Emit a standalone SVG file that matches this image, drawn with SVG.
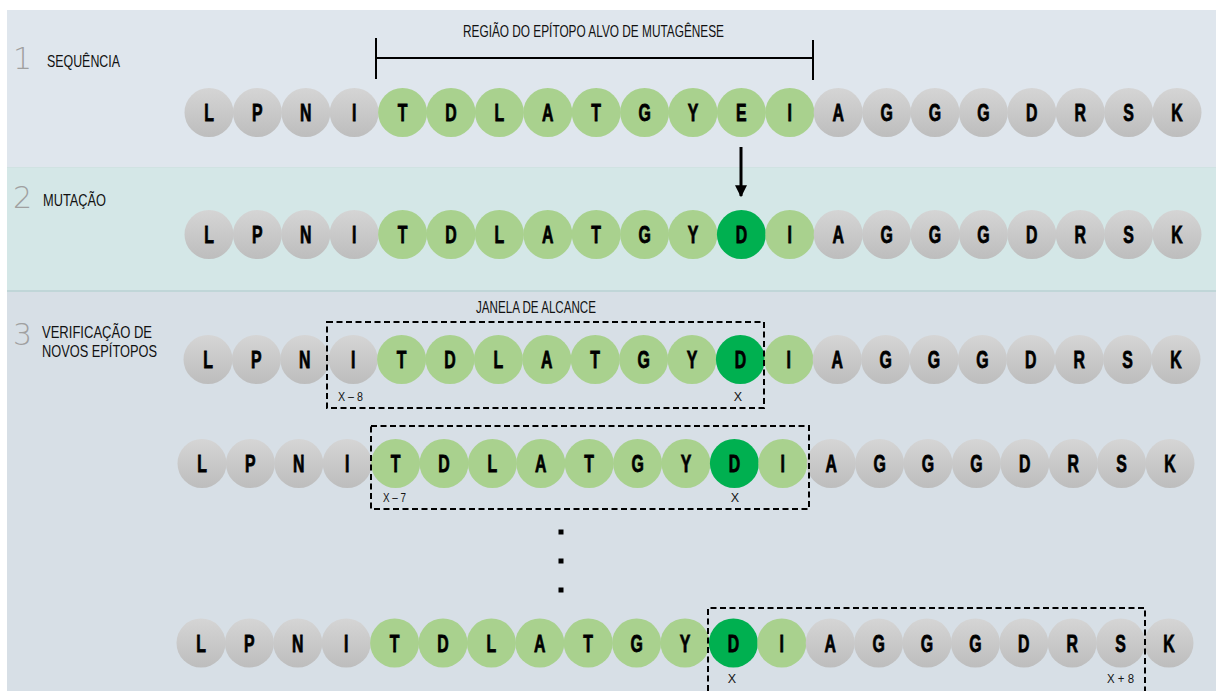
<svg xmlns="http://www.w3.org/2000/svg" width="1216" height="691" viewBox="0 0 1216 691">
  <defs>
    <linearGradient id="grayBall" x1="0" y1="0" x2="0" y2="1">
      <stop offset="0" stop-color="#d5d5d5"/>
      <stop offset="1" stop-color="#bdbdbd"/>
    </linearGradient>
    <marker id="arrowHead" viewBox="0 0 10 10" refX="9" refY="5" markerWidth="4" markerHeight="4" orient="auto" markerUnits="strokeWidth">
      <path d="M0,0 L10,5 L0,10 z" fill="#000"/>
    </marker>
  </defs>
  <style>
    .lbl { font-family: "Liberation Sans", "DejaVu Sans", sans-serif; font-size: 16.5px; fill: #111; }
    .small { font-family: "Liberation Sans", sans-serif; font-size: 12.5px; fill: #151515; }
    .step { font-family: "DejaVu Sans", "Liberation Sans", sans-serif; font-size: 30px; font-weight: 200; fill: #a0a0a0; }
    .aa circle { r: 24.5px; }
    .aa text { font-family: "Liberation Sans", "DejaVu Sans", sans-serif; font-weight: bold; font-size: 24px; text-anchor: middle; fill: #000; stroke: #000; stroke-width: 0.8px; transform: scale(0.66, 1); }
    .g { fill: url(#grayBall); }
    .l { fill: #a9d18e; }
    .d { fill: #00b050; }
    .win { fill: none; stroke: #000; stroke-width: 2; stroke-dasharray: 6 3.5; }
    .bar { stroke: #000; stroke-width: 2; fill: none; }
  </style>

  <!-- page background above the panels -->
  <rect x="0" y="0" width="1216" height="691" fill="#ffffff"/>

  <!-- panel bands -->
  <g id="panels">
    <rect x="7" y="10" width="1209" height="157" fill="#dfe6ed"/>
    <rect x="7" y="167" width="1209" height="125" fill="#d4e7e7"/>
    <rect x="7" y="292" width="1209" height="399" fill="#d7dfe6"/>
    <line x1="7" y1="167.5" x2="1216" y2="167.5" stroke="#d0e2e2" stroke-width="1"/>
    <line x1="7" y1="291" x2="1216" y2="291" stroke="#c0d6d8" stroke-width="2"/>
  </g>

  <!-- step titles -->
  <g id="step1">
    <text class="step" x="13" y="69">1</text>
    <text class="lbl" x="47" y="67" textLength="73" lengthAdjust="spacingAndGlyphs">SEQUÊNCIA</text>
  </g>
  <g id="step2">
    <text class="step" x="13" y="208">2</text>
    <text class="lbl" x="43" y="206" textLength="63" lengthAdjust="spacingAndGlyphs">MUTAÇÃO</text>
  </g>
  <g id="step3">
    <text class="step" x="13" y="345">3</text>
    <text class="lbl" x="42" y="338" textLength="110" lengthAdjust="spacingAndGlyphs">VERIFICAÇÃO DE</text>
    <text class="lbl" x="42" y="357" textLength="115" lengthAdjust="spacingAndGlyphs">NOVOS EPÍTOPOS</text>
  </g>

  <!-- target epitope region bracket -->
  <g id="region">
    <path class="bar" d="M376,38 V79 M376,58 H813 M813,40 V80"/>
    <text class="lbl" x="463" y="37" textLength="261" lengthAdjust="spacingAndGlyphs">REGIÃO DO EPÍTOPO ALVO DE MUTAGÊNESE</text>
  </g>

  <!-- sequence 1: original -->
  <g id="seq1" class="aa" transform="translate(209,112.5)">
    <g><circle class="g"/><text y="8.5">L</text></g>
    <g transform="translate(48.4)"><circle class="g"/><text y="8.5">P</text></g>
    <g transform="translate(96.8)"><circle class="g"/><text y="8.5">N</text></g>
    <g transform="translate(145.2)"><circle class="g"/><text y="8.5">I</text></g>
    <g transform="translate(193.6)"><circle class="l"/><text y="8.5">T</text></g>
    <g transform="translate(242)"><circle class="l"/><text y="8.5">D</text></g>
    <g transform="translate(290.4)"><circle class="l"/><text y="8.5">L</text></g>
    <g transform="translate(338.8)"><circle class="l"/><text y="8.5">A</text></g>
    <g transform="translate(387.2)"><circle class="l"/><text y="8.5">T</text></g>
    <g transform="translate(435.6)"><circle class="l"/><text y="8.5">G</text></g>
    <g transform="translate(484)"><circle class="l"/><text y="8.5">Y</text></g>
    <g transform="translate(532.4)"><circle class="l"/><text y="8.5">E</text></g>
    <g transform="translate(580.8)"><circle class="l"/><text y="8.5">I</text></g>
    <g transform="translate(629.2)"><circle class="g"/><text y="8.5">A</text></g>
    <g transform="translate(677.6)"><circle class="g"/><text y="8.5">G</text></g>
    <g transform="translate(726)"><circle class="g"/><text y="8.5">G</text></g>
    <g transform="translate(774.4)"><circle class="g"/><text y="8.5">G</text></g>
    <g transform="translate(822.8)"><circle class="g"/><text y="8.5">D</text></g>
    <g transform="translate(871.2)"><circle class="g"/><text y="8.5">R</text></g>
    <g transform="translate(919.6)"><circle class="g"/><text y="8.5">S</text></g>
    <g transform="translate(968)"><circle class="g"/><text y="8.5">K</text></g>
  </g>

  <!-- sequence 2: after mutation E -> D -->
  <g id="seq2" class="aa" transform="translate(209,234.5)">
    <g><circle class="g"/><text y="8.5">L</text></g>
    <g transform="translate(48.4)"><circle class="g"/><text y="8.5">P</text></g>
    <g transform="translate(96.8)"><circle class="g"/><text y="8.5">N</text></g>
    <g transform="translate(145.2)"><circle class="g"/><text y="8.5">I</text></g>
    <g transform="translate(193.6)"><circle class="l"/><text y="8.5">T</text></g>
    <g transform="translate(242)"><circle class="l"/><text y="8.5">D</text></g>
    <g transform="translate(290.4)"><circle class="l"/><text y="8.5">L</text></g>
    <g transform="translate(338.8)"><circle class="l"/><text y="8.5">A</text></g>
    <g transform="translate(387.2)"><circle class="l"/><text y="8.5">T</text></g>
    <g transform="translate(435.6)"><circle class="l"/><text y="8.5">G</text></g>
    <g transform="translate(484)"><circle class="l"/><text y="8.5">Y</text></g>
    <g transform="translate(532.4)"><circle class="d"/><text y="8.5">D</text></g>
    <g transform="translate(580.8)"><circle class="l"/><text y="8.5">I</text></g>
    <g transform="translate(629.2)"><circle class="g"/><text y="8.5">A</text></g>
    <g transform="translate(677.6)"><circle class="g"/><text y="8.5">G</text></g>
    <g transform="translate(726)"><circle class="g"/><text y="8.5">G</text></g>
    <g transform="translate(774.4)"><circle class="g"/><text y="8.5">G</text></g>
    <g transform="translate(822.8)"><circle class="g"/><text y="8.5">D</text></g>
    <g transform="translate(871.2)"><circle class="g"/><text y="8.5">R</text></g>
    <g transform="translate(919.6)"><circle class="g"/><text y="8.5">S</text></g>
    <g transform="translate(968)"><circle class="g"/><text y="8.5">K</text></g>
  </g>

  <!-- sequence 3: window X-8 .. X -->
  <g id="seq3" class="aa" transform="translate(208,359.5)">
    <g><circle class="g"/><text y="8.5">L</text></g>
    <g transform="translate(48.4)"><circle class="g"/><text y="8.5">P</text></g>
    <g transform="translate(96.8)"><circle class="g"/><text y="8.5">N</text></g>
    <g transform="translate(145.2)"><circle class="g"/><text y="8.5">I</text></g>
    <g transform="translate(193.6)"><circle class="l"/><text y="8.5">T</text></g>
    <g transform="translate(242)"><circle class="l"/><text y="8.5">D</text></g>
    <g transform="translate(290.4)"><circle class="l"/><text y="8.5">L</text></g>
    <g transform="translate(338.8)"><circle class="l"/><text y="8.5">A</text></g>
    <g transform="translate(387.2)"><circle class="l"/><text y="8.5">T</text></g>
    <g transform="translate(435.6)"><circle class="l"/><text y="8.5">G</text></g>
    <g transform="translate(484)"><circle class="l"/><text y="8.5">Y</text></g>
    <g transform="translate(532.4)"><circle class="d"/><text y="8.5">D</text></g>
    <g transform="translate(580.8)"><circle class="l"/><text y="8.5">I</text></g>
    <g transform="translate(629.2)"><circle class="g"/><text y="8.5">A</text></g>
    <g transform="translate(677.6)"><circle class="g"/><text y="8.5">G</text></g>
    <g transform="translate(726)"><circle class="g"/><text y="8.5">G</text></g>
    <g transform="translate(774.4)"><circle class="g"/><text y="8.5">G</text></g>
    <g transform="translate(822.8)"><circle class="g"/><text y="8.5">D</text></g>
    <g transform="translate(871.2)"><circle class="g"/><text y="8.5">R</text></g>
    <g transform="translate(919.6)"><circle class="g"/><text y="8.5">S</text></g>
    <g transform="translate(968)"><circle class="g"/><text y="8.5">K</text></g>
  </g>

  <!-- sequence 4: window X-7 .. X+1 -->
  <g id="seq4" class="aa" transform="translate(202,463.5)">
    <g><circle class="g"/><text y="8.5">L</text></g>
    <g transform="translate(48.4)"><circle class="g"/><text y="8.5">P</text></g>
    <g transform="translate(96.8)"><circle class="g"/><text y="8.5">N</text></g>
    <g transform="translate(145.2)"><circle class="g"/><text y="8.5">I</text></g>
    <g transform="translate(193.6)"><circle class="l"/><text y="8.5">T</text></g>
    <g transform="translate(242)"><circle class="l"/><text y="8.5">D</text></g>
    <g transform="translate(290.4)"><circle class="l"/><text y="8.5">L</text></g>
    <g transform="translate(338.8)"><circle class="l"/><text y="8.5">A</text></g>
    <g transform="translate(387.2)"><circle class="l"/><text y="8.5">T</text></g>
    <g transform="translate(435.6)"><circle class="l"/><text y="8.5">G</text></g>
    <g transform="translate(484)"><circle class="l"/><text y="8.5">Y</text></g>
    <g transform="translate(532.4)"><circle class="d"/><text y="8.5">D</text></g>
    <g transform="translate(580.8)"><circle class="l"/><text y="8.5">I</text></g>
    <g transform="translate(629.2)"><circle class="g"/><text y="8.5">A</text></g>
    <g transform="translate(677.6)"><circle class="g"/><text y="8.5">G</text></g>
    <g transform="translate(726)"><circle class="g"/><text y="8.5">G</text></g>
    <g transform="translate(774.4)"><circle class="g"/><text y="8.5">G</text></g>
    <g transform="translate(822.8)"><circle class="g"/><text y="8.5">D</text></g>
    <g transform="translate(871.2)"><circle class="g"/><text y="8.5">R</text></g>
    <g transform="translate(919.6)"><circle class="g"/><text y="8.5">S</text></g>
    <g transform="translate(968)"><circle class="g"/><text y="8.5">K</text></g>
  </g>

  <!-- sequence 5: window X .. X+8 -->
  <g id="seq5" class="aa" transform="translate(201,643)">
    <g><circle class="g"/><text y="8.5">L</text></g>
    <g transform="translate(48.4)"><circle class="g"/><text y="8.5">P</text></g>
    <g transform="translate(96.8)"><circle class="g"/><text y="8.5">N</text></g>
    <g transform="translate(145.2)"><circle class="g"/><text y="8.5">I</text></g>
    <g transform="translate(193.6)"><circle class="l"/><text y="8.5">T</text></g>
    <g transform="translate(242)"><circle class="l"/><text y="8.5">D</text></g>
    <g transform="translate(290.4)"><circle class="l"/><text y="8.5">L</text></g>
    <g transform="translate(338.8)"><circle class="l"/><text y="8.5">A</text></g>
    <g transform="translate(387.2)"><circle class="l"/><text y="8.5">T</text></g>
    <g transform="translate(435.6)"><circle class="l"/><text y="8.5">G</text></g>
    <g transform="translate(484)"><circle class="l"/><text y="8.5">Y</text></g>
    <g transform="translate(532.4)"><circle class="d"/><text y="8.5">D</text></g>
    <g transform="translate(580.8)"><circle class="l"/><text y="8.5">I</text></g>
    <g transform="translate(629.2)"><circle class="g"/><text y="8.5">A</text></g>
    <g transform="translate(677.6)"><circle class="g"/><text y="8.5">G</text></g>
    <g transform="translate(726)"><circle class="g"/><text y="8.5">G</text></g>
    <g transform="translate(774.4)"><circle class="g"/><text y="8.5">G</text></g>
    <g transform="translate(822.8)"><circle class="g"/><text y="8.5">D</text></g>
    <g transform="translate(871.2)"><circle class="g"/><text y="8.5">R</text></g>
    <g transform="translate(919.6)"><circle class="g"/><text y="8.5">S</text></g>
    <g transform="translate(968)"><circle class="g"/><text y="8.5">K</text></g>
  </g>

  <!-- reading windows -->
  <g id="window1">
    <rect class="win" x="327" y="322" width="437" height="86"/>
    <text class="lbl" x="476" y="313" textLength="120" lengthAdjust="spacingAndGlyphs">JANELA DE ALCANCE</text>
    <text class="small" x="338" y="401" textLength="25" lengthAdjust="spacingAndGlyphs">X – 8</text>
    <text class="small" x="738" y="401" text-anchor="middle">X</text>
  </g>
  <g id="window2">
    <rect class="win" x="371" y="426" width="438" height="83"/>
    <text class="small" x="383" y="502" textLength="23" lengthAdjust="spacingAndGlyphs">X – 7</text>
    <text class="small" x="735" y="502" text-anchor="middle">X</text>
  </g>
  <g id="window3">
    <path class="win" d="M708,691 V608 H1145 V691"/>
    <text class="small" x="732" y="683" text-anchor="middle">X</text>
    <text class="small" x="1107" y="683" textLength="27" lengthAdjust="spacingAndGlyphs">X + 8</text>
  </g>

  <!-- ellipsis between windows -->
  <g id="ellipsis" fill="#000">
    <rect x="558.5" y="529.5" width="5" height="5"/>
    <rect x="558.5" y="558.5" width="5" height="5"/>
    <rect x="558.5" y="587.5" width="5" height="5"/>
  </g>

  <!-- connectors -->
  <g id="connectors">
    <line x1="741" y1="147" x2="741" y2="196" stroke="#000" stroke-width="3" marker-end="url(#arrowHead)"/>
  </g>
</svg>
